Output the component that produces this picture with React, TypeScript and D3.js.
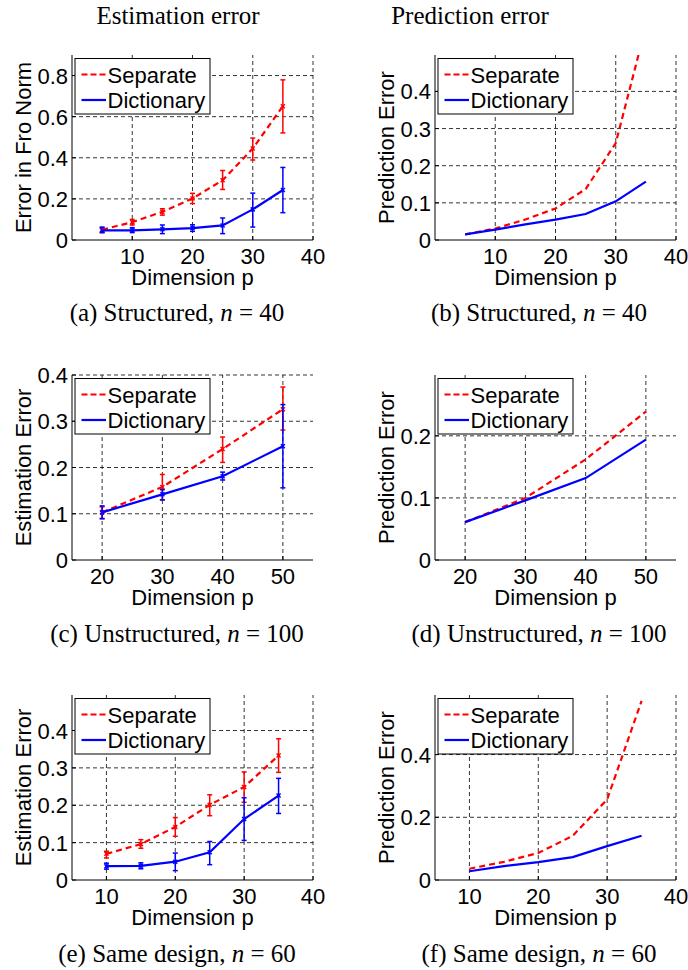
import React from "react";
import * as d3 from "d3";

// dimension p for each design
const pStructured = [5, 10, 15, 20, 25, 30, 35];
const pUnstructured = [20, 30, 40, 50];
const pSame = [10, 15, 20, 25, 30, 35];

// (a) estimation error, structured
const estStructSep = [0.05, 0.087, 0.137, 0.202, 0.291, 0.445, 0.651];
const estStructSepLo = [0.036, 0.073, 0.121, 0.177, 0.246, 0.389, 0.521];
const estStructSepHi = [0.06, 0.1, 0.152, 0.227, 0.338, 0.496, 0.779];
const estStructDict = [0.047, 0.047, 0.052, 0.058, 0.071, 0.149, 0.243];
const estStructDictLo = [0.036, 0.036, 0.031, 0.042, 0.031, 0.063, 0.133];
const estStructDictHi = [0.063, 0.06, 0.073, 0.074, 0.107, 0.228, 0.353];

// (b) prediction error, structured
const predStructSep = [0.015, 0.031, 0.055, 0.085, 0.137, 0.261, 0.575];
const predStructDict = [0.015, 0.028, 0.042, 0.055, 0.07, 0.104, 0.157];

// (c) estimation error, unstructured
const estUnstrSep = [0.103, 0.158, 0.24, 0.326];
const estUnstrSepLo = [0.09, 0.13, 0.211, 0.281];
const estUnstrSepHi = [0.115, 0.185, 0.266, 0.374];
const estUnstrDict = [0.103, 0.142, 0.181, 0.246];
const estUnstrDictLo = [0.089, 0.13, 0.173, 0.156];
const estUnstrDictHi = [0.117, 0.152, 0.19, 0.336];

// (d) prediction error, unstructured
const predUnstrSep = [0.061, 0.1, 0.162, 0.239];
const predUnstrDict = [0.061, 0.096, 0.132, 0.194];

// (e) estimation error, same design
const estSameSep = [0.07, 0.096, 0.142, 0.201, 0.249, 0.333];
const estSameSepLo = [0.059, 0.085, 0.117, 0.172, 0.208, 0.288];
const estSameSepHi = [0.077, 0.108, 0.167, 0.228, 0.289, 0.378];
const estSameDict = [0.037, 0.038, 0.049, 0.074, 0.163, 0.226];
const estSameDictLo = [0.029, 0.03, 0.025, 0.041, 0.106, 0.178];
const estSameDictHi = [0.045, 0.046, 0.072, 0.103, 0.22, 0.272];

// (f) prediction error, same design
const predSameSep = [0.036, 0.058, 0.086, 0.141, 0.257, 0.571];
const predSameDict = [0.028, 0.044, 0.057, 0.073, 0.108, 0.141];

const ticksStructX = [10, 20, 30, 40];
const ticksUnstrX = [20, 30, 40, 50];
const ticksSameX = [10, 20, 30, 40];

const SANS = "'Liberation Sans', Arial, Helvetica, sans-serif";
const SERIF = "'Liberation Serif', 'Times New Roman', serif";
const RED = "#ff0000";
const BLUE = "#0000ff";

const LEFT_X = 72;
const RIGHT_X = 435;
const AX_W = 241;
const AX_H = 185;
const ROW_Y = [55, 375, 695];

function Panel({ id, x0, y0, p, xDomain, yDomain, xTicks, yTicks, yLabel, sep, sepLo, sepHi, dict, dictLo, dictHi }) {
  const x = d3.scaleLinear().domain(xDomain).range([x0, x0 + AX_W]);
  const y = d3.scaleLinear().domain(yDomain).range([y0 + AX_H, y0]);
  const line = d3.line<number>().x((_, i) => x(p[i])).y((d) => y(d));
  const bottom = y0 + AX_H;
  const right = x0 + AX_W;

  // vertical error bars with small caps and an x marker at the mean
  const errBars = (vals, lo, hi, color) =>
    lo
      ? vals.map((v, i) => {
          const cx = x(p[i]);
          return (
            <g key={i} stroke={color} strokeWidth={1.5}>
              <line x1={cx} x2={cx} y1={y(lo[i])} y2={y(hi[i])} />
              <line x1={cx - 2.5} x2={cx + 2.5} y1={y(lo[i])} y2={y(lo[i])} />
              <line x1={cx - 2.5} x2={cx + 2.5} y1={y(hi[i])} y2={y(hi[i])} />
              <line x1={cx - 2} x2={cx + 2} y1={y(v) - 2} y2={y(v) + 2} />
              <line x1={cx - 2} x2={cx + 2} y1={y(v) + 2} y2={y(v) - 2} />
            </g>
          );
        })
      : null;

  const lx = x0 + 3;
  const ly = y0 + 3.5;

  return (
    <g>
      <clipPath id={id}>
        <rect x={x0} y={y0} width={AX_W} height={AX_H} />
      </clipPath>
      {/* grid */}
      <g stroke="#000" strokeWidth={0.8} strokeDasharray="4,3">
        {xTicks.map((t) => (
          <line key={"gx" + t} x1={x(t)} x2={x(t)} y1={bottom} y2={y0} />
        ))}
        {yTicks.filter((t) => t > 0).map((t) => (
          <line key={"gy" + t} x1={x0} x2={right} y1={y(t)} y2={y(t)} />
        ))}
      </g>
      {/* data */}
      <g clipPath={`url(#${id})`}>
        {errBars(sep, sepLo, sepHi, RED)}
        {errBars(dict, dictLo, dictHi, BLUE)}
        <path d={line(sep)} fill="none" stroke={RED} strokeWidth={2.2} strokeDasharray="6,4" />
        <path d={line(dict)} fill="none" stroke={BLUE} strokeWidth={2.2} />
      </g>
      {/* axes */}
      <g stroke="#000" strokeWidth={1}>
        <line x1={x0} x2={x0} y1={y0} y2={bottom} />
        <line x1={x0} x2={right} y1={bottom} y2={bottom} />
        {xTicks.map((t) => (
          <line key={"tx" + t} x1={x(t)} x2={x(t)} y1={bottom} y2={bottom - 4} />
        ))}
        {yTicks.map((t) => (
          <line key={"ty" + t} x1={x0} x2={x0 + 4} y1={y(t)} y2={y(t)} />
        ))}
      </g>
      <g fontFamily={SANS} fontSize={22} fill="#000">
        {xTicks.map((t) => (
          <text key={"lx" + t} x={x(t)} y={bottom + 24} textAnchor="middle">
            {t}
          </text>
        ))}
        {yTicks.map((t) => (
          <text key={"ly" + t} x={x0 - 4} y={y(t) + 8} textAnchor="end">
            {t}
          </text>
        ))}
        <text x={x0 + AX_W / 2} y={bottom + 44.5} textAnchor="middle">
          Dimension p
        </text>
        <text transform={`translate(${x0 - 41},${y0 + AX_H / 2}) rotate(-90)`} textAnchor="middle">
          {yLabel}
        </text>
      </g>
      {/* legend */}
      <g>
        <rect x={lx} y={ly} width={135} height={55.5} fill="#fff" stroke="#000" strokeWidth={1} />
        <line x1={lx + 6.5} x2={lx + 31} y1={ly + 16} y2={ly + 16} stroke={RED} strokeWidth={2.2} strokeDasharray="6,3" />
        <line x1={lx + 6.5} x2={lx + 31} y1={ly + 41.5} y2={ly + 41.5} stroke={BLUE} strokeWidth={2.2} />
        <text x={lx + 32.5} y={ly + 24} fontFamily={SANS} fontSize={22}>
          Separate
        </text>
        <text x={lx + 32.5} y={ly + 49.5} fontFamily={SANS} fontSize={22}>
          Dictionary
        </text>
      </g>
    </g>
  );
}

function Caption({ cx, cy, label, design, n }) {
  return (
    <text x={cx} y={cy} textAnchor="middle" fontFamily={SERIF} fontSize={25} fill="#000">
      {`(${label}) ${design}, `}
      <tspan fontStyle="italic">n</tspan>
      {` = ${n}`}
    </text>
  );
}

export default function App() {
  return (
    <svg
      width={688}
      height={970}
      style={{ position: "absolute", left: 0, top: 0, background: "#fff" }}
    >
      <rect width={688} height={970} fill="#fff" />
      <text x={178} y={24} textAnchor="middle" fontFamily={SERIF} fontSize={25}>
        Estimation error
      </text>
      <text x={470} y={24} textAnchor="middle" fontFamily={SERIF} fontSize={25}>
        Prediction error
      </text>

      <Panel id="ca" x0={LEFT_X} y0={ROW_Y[0]} p={pStructured} xDomain={[0, 40]} yDomain={[0, 0.9]}
        xTicks={ticksStructX} yTicks={[0, 0.2, 0.4, 0.6, 0.8]} yLabel="Error in Fro Norm"
        sep={estStructSep} sepLo={estStructSepLo} sepHi={estStructSepHi}
        dict={estStructDict} dictLo={estStructDictLo} dictHi={estStructDictHi} />
      <Panel id="cb" x0={RIGHT_X} y0={ROW_Y[0]} p={pStructured} xDomain={[0, 40]} yDomain={[0, 0.498]}
        xTicks={ticksStructX} yTicks={[0, 0.1, 0.2, 0.3, 0.4]} yLabel="Prediction Error"
        sep={predStructSep} dict={predStructDict} />
      <Panel id="cc" x0={LEFT_X} y0={ROW_Y[1]} p={pUnstructured} xDomain={[15, 55]} yDomain={[0, 0.4]}
        xTicks={ticksUnstrX} yTicks={[0, 0.1, 0.2, 0.3, 0.4]} yLabel="Estimation Error"
        sep={estUnstrSep} sepLo={estUnstrSepLo} sepHi={estUnstrSepHi}
        dict={estUnstrDict} dictLo={estUnstrDictLo} dictHi={estUnstrDictHi} />
      <Panel id="cd" x0={RIGHT_X} y0={ROW_Y[1]} p={pUnstructured} xDomain={[15, 55]} yDomain={[0, 0.298]}
        xTicks={ticksUnstrX} yTicks={[0, 0.1, 0.2]} yLabel="Prediction Error"
        sep={predUnstrSep} dict={predUnstrDict} />
      <Panel id="ce" x0={LEFT_X} y0={ROW_Y[2]} p={pSame} xDomain={[5, 40]} yDomain={[0, 0.495]}
        xTicks={ticksSameX} yTicks={[0, 0.1, 0.2, 0.3, 0.4]} yLabel="Estimation Error"
        sep={estSameSep} sepLo={estSameSepLo} sepHi={estSameSepHi}
        dict={estSameDict} dictLo={estSameDictLo} dictHi={estSameDictHi} />
      <Panel id="cf" x0={RIGHT_X} y0={ROW_Y[2]} p={pSame} xDomain={[5, 40]} yDomain={[0, 0.59]}
        xTicks={ticksSameX} yTicks={[0, 0.2, 0.4]} yLabel="Prediction Error"
        sep={predSameSep} dict={predSameDict} />

      <Caption cx={177} cy={321} label="a" design="Structured" n={40} />
      <Caption cx={539} cy={321} label="b" design="Structured" n={40} />
      <Caption cx={177} cy={642} label="c" design="Unstructured" n={100} />
      <Caption cx={539} cy={642} label="d" design="Unstructured" n={100} />
      <Caption cx={177} cy={962} label="e" design="Same design" n={60} />
      <Caption cx={539} cy={962} label="f" design="Same design" n={60} />
    </svg>
  );
}
